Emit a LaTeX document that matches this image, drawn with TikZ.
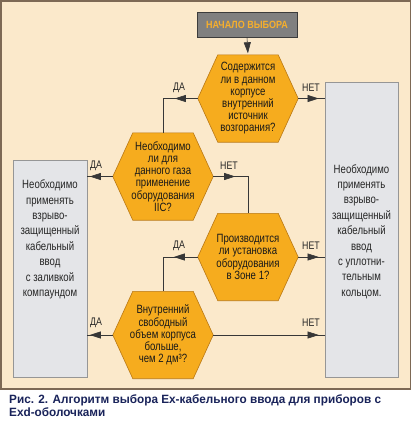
\documentclass[tikz,border=0pt]{standalone}
\usepackage{fontspec}
\setmainfont{Liberation Sans}
\newfontfamily\narrowfont[FakeStretch=0.8]{Liberation Sans}
\newfontfamily\capfont[FakeStretch=0.86]{Liberation Sans}
\newfontfamily\captionfnt[FakeStretch=0.98]{Liberation Sans}
\usetikzlibrary{arrows.meta,decorations.markings}
\definecolor{bgbeige}{RGB}{251,233,203}
\definecolor{framebrown}{RGB}{125,105,85}
\definecolor{hexfill}{RGB}{246,172,30}
\definecolor{hexedge}{RGB}{185,120,20}
\definecolor{startfill}{RGB}{128,128,128}
\definecolor{startedge}{RGB}{60,60,60}
\definecolor{starttext}{RGB}{246,175,45}
\definecolor{boxfill}{RGB}{228,229,232}
\definecolor{boxedge}{RGB}{150,150,150}
\definecolor{linecol}{RGB}{55,55,55}
\definecolor{capblue}{RGB}{25,35,90}
\newcommand\hexfnt{\narrowfont\fontsize{12}{12.2}\selectfont}
\newcommand\boxfnt{\narrowfont\fontsize{12}{15.4}\selectfont}
\pgfdeclarelayer{bglayer}
\pgfdeclarelayer{hexlayer}
\pgfsetlayers{bglayer,hexlayer,main}
\tikzset{
  hexnode/.style={minimum width=100pt,minimum height=87pt,inner sep=0pt,align=center,font=\hexfnt,text=black!90},
  hexshape/.style={fill=hexfill,draw=hexedge,line width=0.6pt},
  startbox/.style={fill=startfill,draw=startedge,line width=0.6pt,minimum width=100pt,minimum height=25pt,inner sep=0pt,text=starttext,font=\capfont\bfseries\fontsize{10.5}{12}\selectfont},
  resbox/.style={fill=boxfill,draw=boxedge,line width=0.7pt,inner sep=0pt},
  boxtext/.style={align=center,font=\boxfnt,text=black!85,inner sep=0pt},
  yesno/.style={font=\narrowfont\fontsize{11}{12}\selectfont,text=black!85,inner sep=0pt},
  conn/.style={draw=linecol,line width=0.6pt},
  midarrow/.style={postaction={decorate,decoration={markings,mark=at position #1 with {\arrow{Triangle[length=11pt,width=7pt]}}}}}
}
\newcommand\myhex[1]{\begin{pgfonlayer}{hexlayer}\path[hexshape] (#1.west) -- ([xshift=20pt]#1.north west) -- ([xshift=-20pt]#1.north east) -- (#1.east) -- ([xshift=-20pt]#1.south east) -- ([xshift=20pt]#1.south west) -- cycle;\end{pgfonlayer}}
\begin{document}
\begin{tikzpicture}[x=1pt,y=-1pt]
\useasboundingbox (0,0) rectangle (412,421);
\begin{pgfonlayer}{bglayer}
\path[fill=white] (0,0) rectangle (412,421);
\path[fill=bgbeige,draw=framebrown,line width=1.5pt] (1,1) rectangle (410.5,389);
\end{pgfonlayer}
% start
\node[startbox] (start) at (247,24.5) {НАЧАЛО ВЫБОРА};
% hexagons
\node[hexnode] (h1) at (248,98.5) {Содержится\\ли в данном\\корпусе\\внутренний\\источник\\возгорания?};
\node[hexnode] (h2) at (163,176.5) {Необходимо\\ли для\\данного газа\\применение\\оборудования\\IIC?};
\node[hexnode] (h3) at (248,257) {Производится\\ли установка\\оборудования\\в Зоне 1?};
\node[hexnode] (h4) at (163,335) {Внутренний\\свободный\\объем корпуса\\больше,\\чем 2 дм³?};
\myhex{h1}\myhex{h2}\myhex{h3}\myhex{h4}
% result boxes
\node[resbox,minimum width=74pt,minimum height=217pt] (lb) at (50,268.5) {};
\node[resbox,minimum width=73pt,minimum height=295pt] (rb) at (361.5,229.5) {};
\node[boxtext] (lt) at (50,239.5) {Необходимо\\применять\\взрыво-\\защищенный\\кабельный\\ввод\\с заливкой\\компаундом};
\node[boxtext] (rt) at (361.5,231.5) {Необходимо\\применять\\взрыво-\\защищенный\\кабельный\\ввод\\с уплотни-\\тельным\\кольцом.};
% connectors
\draw[conn,-{Triangle[length=11pt,width=7pt]},shorten >=1.5pt] (start.south) -- (h1.north);
\draw[conn,midarrow=23pt] (h1.west) -| (h2.north);
\draw[conn,midarrow=-6pt] (h1.east) -- (h1.east -| rb.west);
\draw[conn,midarrow=23pt] (h2.west) -- (h2.west -| lb.east);
\draw[conn,midarrow=22pt] (h2.east) -| (h3.north);
\draw[conn,midarrow=24pt] (h3.west) -| (h4.north);
\draw[conn,midarrow=-6pt] (h3.east) -- (h3.east -| rb.west);
\draw[conn,midarrow=23pt] (h4.west) -- (h4.west -| lb.east);
\draw[conn,midarrow=-6pt] (h4.east) -- (h4.east -| rb.west);
% labels
\node[yesno] (l1) at (179,88) {ДА};
\node[yesno] (l2) at (311,88) {НЕТ};
\node[yesno] (l3) at (96,166) {ДА};
\node[yesno] (l4) at (229,166) {НЕТ};
\node[yesno] (l5) at (179,246) {ДА};
\node[yesno] (l6) at (311,246) {НЕТ};
\node[yesno] (l7) at (96,323) {ДА};
\node[yesno] (l8) at (311,323) {НЕТ};
% caption
\node[anchor=north west,align=left,inner sep=0pt,text=capblue,font=\captionfnt\bfseries\fontsize{12}{13}\selectfont] (cap) at (9,394) {Рис. 2. Алгоритм выбора Ex-кабельного ввода для приборов с\\Exd-оболочками};
\end{tikzpicture}
\end{document}
